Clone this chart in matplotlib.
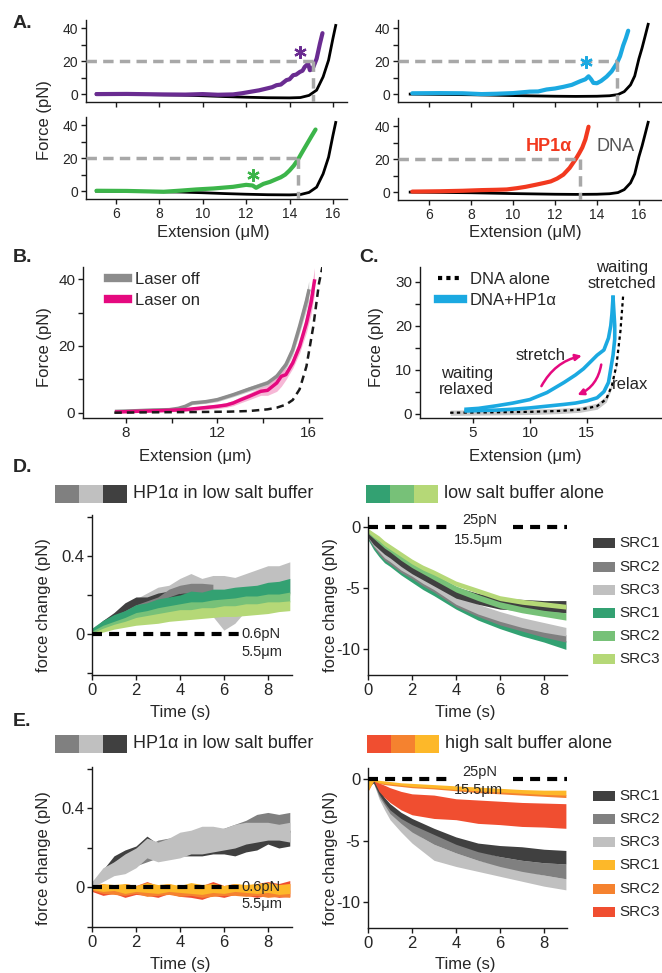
import matplotlib
matplotlib.use('Agg')
import matplotlib.pyplot as plt
from matplotlib.patches import Rectangle, FancyArrowPatch
from matplotlib.lines import Line2D

plt.rcParams['font.family'] = ['Liberation Sans', 'DejaVu Sans']
plt.rcParams['axes.unicode_minus'] = False

# ---- colours
PURPLE = '#6a2c91'
CYAN = '#1ba9e1'
GREEN = '#3cb54a'
RED = '#f2391f'
MAGENTA = '#e5097f'
DK, MD, LG = '#404040', '#808080', '#c0c0c0'
G1, G2, G3 = '#33a172', '#77c178', '#b5d877'
O1, O2, O3 = '#fdb829', '#f5822f', '#f04e30'
DASH_GREY = '#a8a8a8'

# ---- A: force-extension traces
dna_left_x = [5.1, 7, 9, 10, 11, 12, 13, 14, 14.5, 14.9, 15.25, 15.55, 15.8, 16.0, 16.13]
dna_left_y = [0, -0.2, -0.6, -1.0, -1.5, -1.9, -2.2, -2.3, -2.1, -0.8, 2.4, 10.5, 20.6, 33.7, 41.7]
dna_right_x = [5.1, 8, 10, 12, 13, 14, 14.6, 15.0, 15.3, 15.6, 15.8, 16.0, 16.15, 16.3, 16.44]
dna_right_y = [0, -0.4, -0.9, -1.3, -1.4, -1.3, -1.0, -0.3, 1.5, 5.6, 11, 21.5, 28, 35.4, 42.4]

purple_x = [5.1, 6.5, 8.2, 9.2, 10.0, 10.7, 11.4, 11.8, 12.2, 12.6, 12.95, 13.2, 13.4, 13.6,
            13.86, 14.0, 14.17, 14.3, 14.48, 14.6, 14.7, 14.86, 14.94, 15.02, 15.1, 15.25, 15.4, 15.52]
purple_y = [0, 0.1, -0.2, -0.3, 0, -0.4, -0.2, 0.5, 1.4, 2.3, 3.4, 4.2, 5.4, 5.8,
            8.5, 9.0, 11.5, 11.8, 13.5, 14.2, 16.5, 18.5, 14.5, 15.0, 16.5, 21.5, 30.5, 37]
cyan_x = [5.2, 6.5, 7.6, 8.5, 9.2, 10.0, 10.8, 11.2, 11.6, 12.0, 12.4, 12.8, 13.2, 13.45,
          13.6, 13.72, 13.83, 14.0, 14.2, 14.46, 14.7, 14.94, 15.1, 15.25, 15.38, 15.49]
cyan_y = [0.5, 0.6, 0.5, 0.0, 0.2, 0.6, 1.5, 1.6, 2.8, 3.4, 4.4, 5.6, 7.8, 9.0,
          10.8, 9.0, 6.8, 6.6, 8.0, 10.6, 13.8, 18.5, 23, 29.5, 34, 38.5]
green_x = [5.1, 6.5, 8.2, 9.0, 9.7, 10.5, 11.4, 12.0, 12.3, 12.46, 12.6, 12.8, 13.1, 13.4,
           13.6, 13.8, 14.0, 14.2, 14.4, 14.6, 14.8, 15.0, 15.2]
green_y = [0.2, 0.1, -0.4, 0.3, 1.0, 1.6, 2.6, 3.8, 3.4, 2.0, 3.0, 4.4, 5.6, 7.3,
           8.4, 10, 12.5, 15.5, 19.4, 24, 28.5, 33, 37.4]
red_x = [5.2, 6.5, 7.6, 8.5, 9.2, 9.7, 10.2, 10.6, 11.1, 11.5, 11.8, 12.1, 12.4, 12.7,
         13.0, 13.15, 13.3, 13.45, 13.6]
red_y = [0.3, 0.5, 0.8, 1.2, 1.4, 1.6, 2.4, 3.2, 4.5, 5.6, 6.5, 8.2, 10.6, 14.7,
         20.3, 23.5, 27, 32, 39.7]
cross_force = 20
cross_ext = [15.1, 14.94, 14.4, 13.2]          # purple, cyan, green, red
star_x = [14.48, 13.5, 12.3]
star_y = [25.6, 19.5, 9.7]

# ---- B: laser off / on
b_off_x = [7.6, 8.5, 9.2, 9.9, 10.3, 10.6, 10.9, 11.5, 12.0, 12.7, 13.4, 13.8, 14.2, 14.6,
           15.0, 15.3, 15.6, 15.9, 16.0]
b_off_y = [0.4, 0.6, 0.8, 0.9, 1.3, 1.9, 2.9, 3.3, 3.9, 5.4, 7.1, 8.0, 8.9, 10.9,
           14.4, 18.9, 25.9, 33.5, 36.5]
b_off_err = [0.3, 0.3, 0.3, 0.4, 0.4, 0.5, 0.5, 0.5, 0.6, 0.6, 0.7, 0.8, 0.9, 1.0,
             1.3, 1.6, 2.0, 2.5, 3.0]
b_on_x = [7.6, 8.5, 9.5, 10.6, 11.3, 12.0, 12.4, 12.7, 13.0, 13.4, 13.9, 14.2, 14.6, 14.8,
          15.0, 15.3, 15.6, 15.9, 16.1, 16.25]
b_on_y = [0.2, 0.4, 0.6, 0.9, 1.4, 1.9, 2.3, 2.9, 3.8, 4.9, 6.4, 6.7, 8.9, 10.9,
          11.4, 14.9, 19.9, 26.9, 33, 39.5]
b_on_err = [0.3, 0.3, 0.4, 0.5, 0.6, 0.7, 0.7, 0.8, 0.9, 1.0, 1.2, 1.5, 2.5, 3.0,
            1.5, 1.6, 2.0, 2.8, 3.5, 4.0]
b_dna_x = [7.5, 9, 11.2, 12.5, 13.4, 14.2, 14.6, 15.0, 15.3, 15.6, 15.9, 16.2, 16.45, 16.7]
b_dna_y = [0.0, 0.1, 0.2, 0.3, 0.5, 1.0, 1.5, 2.4, 3.8, 7.0, 13.9, 25.9, 38.9, 47]

# ---- C: stretch / relax cycle
c_dna_x = [3.0, 5.0, 7.0, 10.0, 12.5, 14.4, 15.9, 16.7, 17.2, 17.6, 17.95, 18.2]
c_dna_y = [0.2, 0.25, 0.3, 0.4, 0.6, 0.9, 1.7, 3.3, 6.4, 11.0, 18.8, 27.3]
c_dna_err = [0.6, 0.6, 0.6, 0.6, 0.6, 0.6, 0.7, 0.7, 0.5, 0.3, 0.2, 0.2]
c_stretch_x = [4.4, 5.5, 7.1, 8.5, 10.0, 11.5, 13.0, 14.0, 14.7, 15.4, 15.9, 16.5, 16.9, 17.1, 17.2, 17.3]
c_stretch_y = [1.0, 1.2, 1.8, 2.4, 3.2, 4.8, 7.1, 8.8, 10.2, 12.0, 13.3, 14.5, 17.2, 20.0, 22.6, 26.5]
c_relax_x = [17.3, 17.45, 17.45, 17.3, 16.9, 16.5, 15.9, 15.0, 14.0, 13.0, 11.5, 10.0, 8.5, 7.1, 5.5, 4.4]
c_relax_y = [26.5, 20.0, 17.0, 13.3, 7.1, 5.0, 3.6, 2.9, 2.4, 2.1, 1.7, 1.3, 1.0, 0.8, 0.7, 0.6]

# ---- D/E: force change vs time
t_half = [0, 0.5, 1, 1.5, 2, 2.5, 3, 3.5, 4, 4.5, 5, 5.5, 6, 6.5, 7, 7.5, 8, 8.5, 9]
t_dec = [0, 0.25, 0.5, 0.75, 1, 1.5, 2, 2.5, 3, 4, 5, 6, 7, 8, 9]

# D left, 0.6 pN clamp (HP1a greys, low salt greens)
d_lg_hi = [0.03, 0.07, 0.10, 0.14, 0.18, 0.21, 0.24, 0.25, 0.285, 0.31, 0.285, 0.30, 0.30, 0.29, 0.31, 0.33, 0.35, 0.35, 0.37]
d_lg_lo = [0.00, 0.04, 0.06, 0.08, 0.10, 0.12, 0.13, 0.14, 0.15, 0.14, 0.15, 0.09, 0.02, 0.055, 0.12, 0.16, 0.18, 0.19, 0.20]
d_dk_hi = [0.02, 0.07, 0.11, 0.16, 0.19, 0.19, 0.21, 0.22, 0.21, 0.22, 0.22]
d_dk_lo = [0.00, 0.04, 0.07, 0.10, 0.13, 0.14, 0.15, 0.16, 0.17, 0.17, 0.17]
d_md_hi = [0.02, 0.06, 0.09, 0.12, 0.15, 0.17, 0.19, 0.23, 0.25, 0.26, 0.26, 0.255]
d_md_lo = [0.00, 0.04, 0.07, 0.09, 0.12, 0.14, 0.16, 0.19, 0.21, 0.21, 0.21, 0.21]
d_g1_hi = [0.03, 0.07, 0.10, 0.12, 0.15, 0.16, 0.18, 0.19, 0.20, 0.22, 0.215, 0.23, 0.23, 0.24, 0.245, 0.25, 0.265, 0.27, 0.285]
d_g1_lo = [0.01, 0.04, 0.06, 0.08, 0.105, 0.115, 0.13, 0.14, 0.15, 0.16, 0.16, 0.17, 0.175, 0.18, 0.19, 0.19, 0.20, 0.20, 0.21]
d_g2_hi = [0.015, 0.045, 0.065, 0.085, 0.11, 0.12, 0.135, 0.145, 0.155, 0.165, 0.165, 0.175, 0.18, 0.185, 0.195, 0.195, 0.205, 0.205, 0.215]
d_g2_lo = [0.0, 0.025, 0.045, 0.06, 0.08, 0.09, 0.10, 0.11, 0.12, 0.12, 0.13, 0.13, 0.14, 0.14, 0.15, 0.15, 0.16, 0.16, 0.165]
d_g3_hi = [0.005, 0.03, 0.05, 0.065, 0.085, 0.095, 0.105, 0.115, 0.125, 0.125, 0.135, 0.135, 0.145, 0.145, 0.155, 0.155, 0.165, 0.165, 0.17]
d_g3_lo = [-0.01, 0.01, 0.025, 0.035, 0.045, 0.05, 0.055, 0.065, 0.07, 0.075, 0.08, 0.085, 0.09, 0.09, 0.095, 0.10, 0.105, 0.115, 0.12]

# D right, 25 pN clamp
dr_g3_hi = [-0.1, -0.4, -0.7, -1.1, -1.4, -2.0, -2.6, -3.1, -3.5, -4.4, -5.0, -5.6, -5.9, -6.1, -6.3]
dr_g3_lo = [-0.4, -0.8, -1.1, -1.5, -1.8, -2.4, -3.0, -3.5, -3.9, -4.8, -5.4, -6.0, -6.3, -6.5, -6.7]
dr_g2_hi = [-0.1, -0.5, -0.8, -1.2, -1.5, -2.2, -2.8, -3.3, -3.8, -4.8, -5.5, -6.1, -6.5, -6.8, -7.0]
dr_g2_lo = [-0.5, -0.9, -1.3, -1.7, -2.0, -2.7, -3.3, -3.8, -4.3, -5.3, -6.0, -6.6, -7.0, -7.3, -7.6]
dr_dk_hi = [-0.3, -0.8, -1.2, -1.6, -1.8, -2.5, -3.1, -3.6, -4.1, -4.9, -5.4, -5.8, -5.9, -6.0, -6.0]
dr_dk_lo = [-0.8, -1.4, -1.8, -2.2, -2.5, -3.2, -3.8, -4.3, -4.8, -5.8, -6.3, -6.7, -6.8, -6.9, -7.0]
dr_lg_hi = [-0.3, -0.9, -1.4, -1.8, -2.1, -2.8, -3.4, -3.9, -4.4, -5.5, -6.3, -6.9, -7.4, -7.8, -8.2]
dr_lg_lo = [-0.8, -1.5, -2.0, -2.5, -2.8, -3.5, -4.0, -4.6, -5.1, -6.3, -7.1, -7.7, -8.2, -8.6, -8.9]
dr_md_hi = [-0.4, -1.0, -1.6, -2.1, -2.4, -3.1, -3.7, -4.2, -4.7, -5.8, -6.7, -7.4, -7.9, -8.4, -8.8]
dr_md_lo = [-0.9, -1.6, -2.2, -2.7, -3.0, -3.7, -4.2, -4.8, -5.3, -6.5, -7.3, -8.0, -8.5, -9.0, -9.4]
dr_g1_hi = [-0.4, -1.2, -1.8, -2.3, -2.6, -3.3, -3.9, -4.5, -5.0, -6.0, -6.9, -7.6, -8.2, -8.7, -9.3]
dr_g1_lo = [-1.0, -1.8, -2.4, -2.9, -3.2, -3.9, -4.5, -5.1, -5.6, -6.7, -7.6, -8.3, -8.9, -9.4, -10.0]

# E left, 0.6 pN clamp (HP1a greys, high salt oranges)
e_lg_hi = [0.03, 0.10, 0.13, 0.17, 0.20, 0.25, 0.23, 0.25, 0.28, 0.29, 0.31, 0.31, 0.30, 0.32, 0.33, 0.33, 0.33, 0.32, 0.33]
e_lg_lo = [0.00, 0.03, 0.06, 0.07, 0.10, 0.15, 0.13, 0.14, 0.15, 0.17, 0.17, 0.18, 0.19, 0.20, 0.22, 0.23, 0.24, 0.24, 0.23]
e_dk_hi = [0.02, 0.09, 0.16, 0.19, 0.21, 0.26, 0.22, 0.23, 0.24, 0.25, 0.25, 0.26, 0.26, 0.27, 0.27, 0.28, 0.28, 0.28, 0.29]
e_dk_lo = [0.00, 0.04, 0.09, 0.12, 0.14, 0.15, 0.15, 0.15, 0.16, 0.16, 0.16, 0.17, 0.17, 0.16, 0.18, 0.19, 0.22, 0.20, 0.21]
e_md_hi = [0.02, 0.08, 0.13, 0.16, 0.19, 0.21, 0.24, 0.25, 0.26, 0.27, 0.28, 0.29, 0.30, 0.32, 0.34, 0.37, 0.38, 0.37, 0.38]
e_md_lo = [0.00, 0.04, 0.07, 0.09, 0.11, 0.13, 0.15, 0.17, 0.18, 0.20, 0.21, 0.22, 0.23, 0.24, 0.25, 0.26, 0.27, 0.27, 0.28]
e_o3_hi = [0.01, 0.02, 0.0, 0.02, 0.01, 0.03, 0.01, 0.02, 0.0, 0.02, 0.01, 0.03, 0.01, 0.02, 0.01, 0.02, 0.03, 0.02, 0.035]
e_o3_lo = [-0.02, -0.04, -0.03, -0.05, -0.035, -0.04, -0.05, -0.03, -0.045, -0.05, -0.06, -0.04, -0.05, -0.035, -0.04, -0.05, -0.04, -0.05, -0.045]
e_o2_hi = [0.005, 0.01, 0.005, 0.01, 0.0, 0.015, 0.005, 0.01, 0.0, 0.01, 0.005, 0.015, 0.0, 0.01, 0.005, 0.01, 0.015, 0.01, 0.02]
e_o2_lo = [-0.015, -0.03, -0.035, -0.04, -0.03, -0.045, -0.04, -0.035, -0.045, -0.04, -0.05, -0.045, -0.04, -0.04, -0.045, -0.04, -0.05, -0.045, -0.05]
e_o1_hi = [0.01, 0.02, 0.015, 0.02, 0.01, 0.025, 0.015, 0.02, 0.01, 0.025, 0.015, 0.02, 0.01, 0.02, 0.015, 0.02, 0.025, 0.015, 0.02]
e_o1_lo = [-0.01, -0.02, -0.015, -0.03, -0.02, -0.025, -0.03, -0.02, -0.025, -0.03, -0.035, -0.025, -0.03, -0.02, -0.025, -0.03, -0.025, -0.035, -0.03]

# E right, 25 pN clamp
er_dk_hi = [-0.2, 0.0, -0.8, -1.5, -2.0, -2.7, -3.2, -3.6, -4.0, -4.7, -5.2, -5.4, -5.5, -5.7, -5.8]
er_dk_lo = [-0.6, -0.3, -1.2, -1.9, -2.5, -3.2, -3.7, -4.1, -4.5, -5.3, -5.9, -6.3, -6.6, -6.8, -6.9]
er_md_hi = [-0.2, 0.0, -0.9, -1.6, -2.2, -2.9, -3.5, -3.9, -4.3, -5.1, -5.8, -6.3, -6.6, -6.8, -6.9]
er_md_lo = [-0.6, -0.3, -1.4, -2.1, -2.8, -3.6, -4.3, -4.8, -5.3, -6.0, -6.6, -7.1, -7.5, -7.8, -8.1]
er_lg_hi = [-0.2, 0.0, -1.1, -1.9, -2.5, -3.4, -4.2, -4.8, -5.3, -6.0, -6.6, -7.0, -7.4, -7.8, -8.1]
er_lg_lo = [-0.6, -0.3, -1.6, -2.5, -3.3, -4.3, -5.2, -5.9, -6.6, -7.1, -7.5, -7.9, -8.3, -8.7, -9.0]
er_o3_hi = [-0.1, 0.0, -0.3, -0.5, -0.7, -1.0, -1.2, -1.25, -1.3, -1.6, -1.7, -1.8, -1.9, -1.95, -2.0]
er_o3_lo = [-0.5, -0.1, -1.0, -1.5, -1.9, -2.5, -2.9, -3.05, -3.2, -3.3, -3.6, -3.7, -3.85, -3.9, -4.0]
er_o2_hi = [-0.1, 0.0, -0.15, -0.25, -0.3, -0.4, -0.45, -0.5, -0.55, -0.7, -0.85, -0.95, -1.05, -1.15, -1.25]
er_o2_lo = [-1.0, -0.15, -0.35, -0.45, -0.5, -0.6, -0.7, -0.75, -0.8, -0.95, -1.1, -1.2, -1.3, -1.4, -1.5]
er_o1_hi = [-0.1, 0.0, -0.1, -0.15, -0.2, -0.3, -0.35, -0.4, -0.45, -0.55, -0.65, -0.75, -0.85, -0.9, -0.9]
er_o1_lo = [-0.9, -0.15, -0.3, -0.35, -0.4, -0.5, -0.6, -0.65, -0.7, -0.85, -0.95, -1.05, -1.15, -1.25, -1.3]

src_labels = ['SRC1', 'SRC2', 'SRC3', 'SRC1', 'SRC2', 'SRC3']

TICK = 10
LAB = 12
TXT = '#262626'

W, H = 662, 973
fig = plt.figure(figsize=(W / 100, H / 100), dpi=100)


def box(x0, y0, x1, y1, ticksize=TICK):
    ax = fig.add_axes([x0 / W, 1 - y1 / H, (x1 - x0) / W, (y1 - y0) / H])
    ax.set_facecolor('none')
    for s in ('top', 'right'):
        ax.spines[s].set_visible(False)
    for s in ('left', 'bottom'):
        ax.spines[s].set_linewidth(1.0)
        ax.spines[s].set_color('#1a1a1a')
    ax.tick_params(direction='out', length=3.5, width=1.0, color='#1a1a1a',
                   labelsize=ticksize, labelcolor=TXT, pad=2)
    ax.tick_params(which='minor', direction='out', length=3.5, width=1.0, color='#1a1a1a')
    return ax


# ================= A =================
a_axes = [box(86, 20, 347, 102), box(398, 20, 662, 102),
          box(86, 117, 347, 199), box(398, 118, 662, 200)]
traces = [(purple_x, purple_y, PURPLE, dna_left_x, dna_left_y),
          (cyan_x, cyan_y, CYAN, dna_right_x, dna_right_y),
          (green_x, green_y, GREEN, dna_left_x, dna_left_y),
          (red_x, red_y, RED, dna_right_x, dna_right_y)]
for i, ax in enumerate(a_axes):
    tx, ty, col, dx, dy = traces[i]
    left = i % 2 == 0
    ax.set_xlim((4.62, 16.65) if left else (4.52, 17.1))
    ax.set_ylim(-4.8, 45)
    ax.plot(dx, dy, color='black', lw=2.0, zorder=2)
    ax.plot(tx, ty, color=col, lw=3.0, solid_capstyle='round', zorder=3)
    xl = ax.get_xlim()[0]
    ax.plot([xl, cross_ext[i]], [cross_force, cross_force], color=DASH_GREY, lw=2.5,
            dashes=(3, 1.8), zorder=4)
    ax.plot([cross_ext[i], cross_ext[i]], [cross_force, -4.8], color=DASH_GREY, lw=2.5,
            dashes=(3, 1.8), zorder=4)
    if i < 3:
        ax.plot(star_x[i], star_y[i], marker=(6, 2, 0), ms=9, mew=1.6, color=col, zorder=5)
    ax.set_yticks([0, 20, 40])
    ax.set_yticks([10, 30], minor=True)
    ax.set_xticks([6, 8, 10, 12, 14, 16])
    if i < 2:
        ax.tick_params(labelbottom=False)
a_axes[3].text(11.7, 27.5, 'HP1α', color=RED, fontsize=13, fontweight='bold', ha='center', va='center')
a_axes[3].text(14.9, 27.5, 'DNA', color='#555555', fontsize=13, ha='center', va='center')

# ================= B =================
axb = box(83, 267, 322, 418, ticksize=11)
axb.set_xlim(6.13, 16.58)
axb.set_ylim(-1.6, 43.7)
axb.fill_between(b_off_x, [y - e for y, e in zip(b_off_y, b_off_err)],
                 [y + e for y, e in zip(b_off_y, b_off_err)], color='#bdbdbd', lw=0, alpha=0.8)
axb.fill_between(b_on_x, [y - e for y, e in zip(b_on_y, b_on_err)],
                 [y + e for y, e in zip(b_on_y, b_on_err)], color='#f4a6cc', lw=0, alpha=0.8)
axb.plot(b_off_x, b_off_y, color='#8c8c8c', lw=2.5)
axb.plot(b_on_x, b_on_y, color=MAGENTA, lw=2.5)
axb.plot(b_dna_x, b_dna_y, color='#1a1a1a', lw=1.8, dashes=(3, 2))
axb.set_xticks([8, 12, 16])
axb.set_xticks([10, 14], minor=True)
axb.set_yticks([0, 20, 40])
axb.set_yticks([10, 30], minor=True)
axb.legend(handles=[Line2D([], [], color='#8c8c8c', lw=6), Line2D([], [], color=MAGENTA, lw=6)],
           labels=['Laser off', 'Laser on'], loc='upper left', bbox_to_anchor=(0.07, 1.02),
           frameon=False, fontsize=12, handlelength=1.2, handletextpad=0.4, labelspacing=0.35,
           borderpad=0, labelcolor=TXT)

# ================= C =================
axc = box(420, 267, 662, 418, ticksize=11)
axc.set_xlim(0.35, 21.6)
axc.set_ylim(-1, 33.4)
axc.fill_between(c_dna_x, [y - e for y, e in zip(c_dna_y, c_dna_err)],
                 [y + e for y, e in zip(c_dna_y, c_dna_err)], color='#c8c8c8', lw=0)
axc.plot(c_dna_x, c_dna_y, color='black', lw=1.6, dashes=(1.5, 1.5))
axc.plot(c_stretch_x, c_stretch_y, color=CYAN, lw=2.6)
axc.plot(c_relax_x, c_relax_y, color=CYAN, lw=2.6)
for p0, p1, rad in [((10.9, 5.7), (14.8, 13.3), -0.25), ((16.3, 11.8), (13.95, 4.0), -0.3)]:
    axc.add_patch(FancyArrowPatch(p0, p1, connectionstyle=f'arc3,rad={rad}', arrowstyle='-|>',
                                  mutation_scale=9, color=MAGENTA, lw=1.8))
axc.text(18.1, 31.5, 'waiting\nstretched', ha='center', va='center', fontsize=12,
         color=TXT, linespacing=1.1)
axc.text(10.9, 13.3, 'stretch', ha='center', va='center', fontsize=12, color=TXT)
axc.text(4.45, 7.4, 'waiting\nrelaxed', ha='center', va='center', fontsize=12,
         color=TXT, linespacing=1.1)
axc.text(18.8, 6.7, 'relax', ha='center', va='center', fontsize=12, color=TXT)
axc.set_xticks([5, 10, 15])
axc.set_yticks([0, 10, 20, 30])
axc.set_yticks([5, 15, 25], minor=True)
axc.legend(handles=[Line2D([], [], color='black', lw=3, dashes=(1, 1)), Line2D([], [], color=CYAN, lw=6)],
           labels=['DNA alone', 'DNA+HP1α'], loc='upper left', bbox_to_anchor=(0.04, 1.02),
           frameon=False, fontsize=12, handlelength=1.5, handletextpad=0.4, labelspacing=0.35,
           borderpad=0, labelcolor=TXT)


# ================= D / E =================
def bands(ax, series):
    for t, lo, hi, col in series:
        ax.fill_between(t, lo, hi, color=col, lw=0)


def small_axes(ax):
    ax.set_xlim(0, 9.1)
    ax.set_ylim(-0.21, 0.61)
    ax.set_xticks([0, 2, 4, 6, 8])
    ax.set_yticks([-0.2, 0, 0.2, 0.4, 0.6])
    ax.set_yticklabels(['', '0', '', '0.4', ''])


def big_axes(ax):
    ax.set_xlim(0, 9.05)
    ax.set_ylim(-12.1, 0.85)
    ax.set_xticks([0, 2, 4, 6, 8])
    ax.set_yticks([-10, -5, 0])


dash = dict(color='black', lw=3, dashes=(2.4, 1.7), zorder=6)

axd1 = box(92, 515, 292, 675, ticksize=12)
small_axes(axd1)
bands(axd1, [(t_half, d_lg_lo, d_lg_hi, LG), (t_half[:11], d_dk_lo, d_dk_hi, DK),
             (t_half[:12], d_md_lo, d_md_hi, MD), (t_half, d_g1_lo, d_g1_hi, G1),
             (t_half, d_g2_lo, d_g2_hi, G2), (t_half, d_g3_lo, d_g3_hi, G3)])
axd1.plot([0, 6.7], [0, 0], **dash)
axd1.text(6.8, 0.0, '0.6pN', fontsize=10.5, color=TXT, va='center', ha='left', zorder=7)
axd1.text(6.8, -0.09, '5.5μm', fontsize=10.5, color=TXT, va='center', ha='left', zorder=7)

axd2 = box(368, 517, 567, 675, ticksize=12)
big_axes(axd2)
bands(axd2, [(t_dec, dr_g1_lo, dr_g1_hi, G1), (t_dec, dr_md_lo, dr_md_hi, MD),
             (t_dec, dr_lg_lo, dr_lg_hi, LG), (t_dec, dr_dk_lo, dr_dk_hi, DK),
             (t_dec, dr_g2_lo, dr_g2_hi, G2), (t_dec, dr_g3_lo, dr_g3_hi, G3)])
axd2.plot([0, 3.7], [0, 0], **dash)
axd2.plot([6.6, 9.05], [0, 0], **dash)
axd2.text(5.1, 0.6, '25pN', fontsize=10.5, color=TXT, ha='center', va='center')
axd2.text(5.0, -1.0, '15.5μm', fontsize=10.5, color=TXT, ha='center', va='center')

axe1 = box(92, 767, 292, 927, ticksize=12)
small_axes(axe1)
axe1.set_ylim(-0.2, 0.61)
bands(axe1, [(t_half, e_dk_lo, e_dk_hi, DK), (t_half, e_md_lo, e_md_hi, MD),
             (t_half, e_lg_lo, e_lg_hi, LG), (t_half, e_o3_lo, e_o3_hi, O3),
             (t_half, e_o2_lo, e_o2_hi, O2), (t_half, e_o1_lo, e_o1_hi, O1)])
axe1.plot([0, 6.7], [0, 0], **dash)
axe1.text(6.8, 0.0, '0.6pN', fontsize=10.5, color=TXT, va='center', ha='left', zorder=7)
axe1.text(6.8, -0.086, '5.5μm', fontsize=10.5, color=TXT, va='center', ha='left', zorder=7)

axe2 = box(368, 768, 567, 928, ticksize=12)
big_axes(axe2)
axe2.set_ylim(-12.1, 0.9)
bands(axe2, [(t_dec, er_lg_lo, er_lg_hi, LG), (t_dec, er_md_lo, er_md_hi, MD),
             (t_dec, er_dk_lo, er_dk_hi, DK), (t_dec, er_o3_lo, er_o3_hi, O3),
             (t_dec, er_o2_lo, er_o2_hi, O2), (t_dec, er_o1_lo, er_o1_hi, O1)])
axe2.plot([0, 3.6], [0, 0], **dash)
axe2.plot([6.6, 9.05], [0, 0], **dash)
axe2.text(5.1, 0.57, '25pN', fontsize=10.5, color=TXT, ha='center', va='center')
axe2.text(5.0, -0.9, '15.5μm', fontsize=10.5, color=TXT, ha='center', va='center')

# ================= labels, legends =================
ov = fig.add_axes([0, 0, 1, 1])
ov.set_xlim(0, W)
ov.set_ylim(H, 0)
ov.axis('off')


def lab(x, y, s, size=LAB, rot=0, **kw):
    ov.text(x, y, s, fontsize=size, rotation=rot, ha='center', va='center', color=TXT, **kw)


for x, y, s in [(22, 23, 'A.'), (22, 258, 'B.'), (369, 258, 'C.'), (22, 468, 'D.'), (22, 722, 'E.')]:
    lab(x, y, s, size=14, fontweight='bold')

lab(44, 120, 'Force (pN)', rot=90)
lab(213, 233, 'Extension (μM)')
lab(525, 233, 'Extension (μM)')
lab(44, 347, 'Force (pN)', rot=90)
lab(377, 347, 'Force (pN)', rot=90)
lab(195, 457, 'Extension (μm)')
lab(525, 457, 'Extension (μm)')
for y in (605, 858):
    lab(44, y, 'force change (pN)', rot=90)
    lab(331, y, 'force change (pN)', rot=90)
for y in (712, 965):
    lab(180, y, 'Time (s)')
    lab(465, y, 'Time (s)')


def swatch_row(x0, y0, cols, text, w=24, h=18):
    for k, c in enumerate(cols):
        ov.add_patch(Rectangle((x0 + k * w, y0), w, h, color=c, lw=0))
    ov.text(x0 + len(cols) * w + 6, y0 + h / 2, text, fontsize=13, color=TXT, ha='left', va='center')


swatch_row(55, 485, [MD, LG, DK], 'HP1α in low salt buffer')
swatch_row(366, 485, [G1, G2, G3], 'low salt buffer alone')
swatch_row(55, 735, [MD, LG, DK], 'HP1α in low salt buffer')
swatch_row(367, 735, [O3, O2, O1], 'high salt buffer alone')


def src_legend(ys, cols):
    for y, c, s in zip(ys, cols, src_labels):
        ov.add_patch(Rectangle((593, y - 5), 22, 10, color=c, lw=0))
        ov.text(619, y, s, fontsize=11, color=TXT, ha='left', va='center')


src_legend([543, 567, 590, 613, 636, 659], [DK, MD, LG, G1, G2, G3])
src_legend([796, 819, 842, 865, 889, 912], [DK, MD, LG, O1, O2, O3])

fig.savefig('out.png', dpi=100)
